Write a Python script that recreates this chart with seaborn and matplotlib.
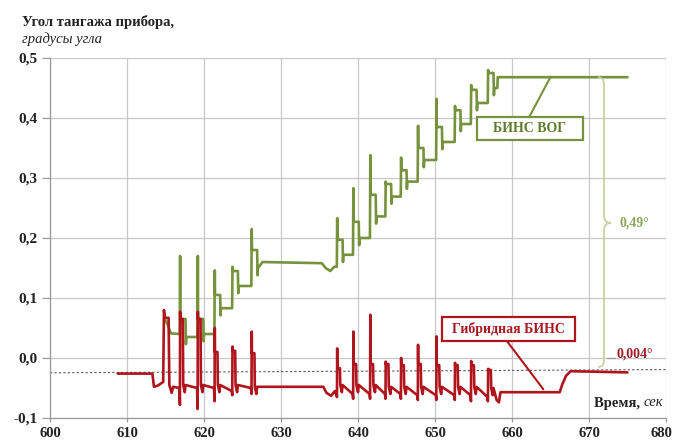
import numpy as np
import pandas as pd
import matplotlib
matplotlib.use("Agg")
import matplotlib.pyplot as plt
import matplotlib.transforms as mtransforms
from matplotlib.patches import Rectangle, PathPatch
from matplotlib.path import Path
import seaborn as sns

# ---------------- data ----------------
# Pitch of the device, degrees, vs time, s
# Correction cycles (same instants for both systems)
cyc_a_t = [616.9, 619.2, 621.4, 623.7, 626.2]
cyc_b_t = [637.3, 639.4, 641.6, 643.6, 645.6, 647.8, 650.2, 652.6, 654.7, 656.9]

# БИНС ВОГ: spike peak, level right after spike, settled level
gA_peak = [0.170, 0.170, 0.146, 0.152, 0.215]
gA_post = [0.065, 0.065, 0.105, 0.145, 0.180]
gA_low = [0.035, 0.040, 0.083, 0.120, 0.150]
gB_peak = [0.233, 0.283, 0.338, 0.294, 0.334, 0.387, 0.432, 0.420, 0.455, 0.480]
gB_post = [0.197, 0.227, 0.272, 0.290, 0.313, 0.350, 0.385, 0.413, 0.447, 0.475]
gB_low = [0.172, 0.200, 0.236, 0.269, 0.294, 0.330, 0.360, 0.390, 0.425, 0.450]
g_lead_t = [615.0, 615.3, 615.7, 616.85]
g_lead_v = [0.063, 0.055, 0.041, 0.040]
g_hold_t = [627.6, 635.3, 635.8, 636.4, 636.9, 637.25]
g_hold_v = [0.160, 0.158, 0.150, 0.145, 0.152, 0.152]
g_tail_t = [658.1, 658.15, 675.0]
g_tail_v = [0.450, 0.468, 0.468]

# Гибридная БИНС: spike top, spike bottom, hook, middle level, level before next cycle
rA_top = [0.077, 0.077, 0.050, 0.019, 0.044]
rA_bot = [-0.078, -0.085, -0.072, -0.062, -0.060]
rA_hook = [0.065, 0.065, 0.010, 0.012, 0.008]
rA_mid = [-0.045, -0.045, -0.045, -0.045, -0.048]
rA_low = [-0.050, -0.050, -0.055, -0.050, -0.048]
rB_top = [0.016, 0.044, 0.072, -0.006, 0.000, 0.022, 0.036, -0.008, -0.005, -0.018]
rB_bot = [-0.065, -0.068, -0.068, -0.068, -0.068, -0.070, -0.070, -0.070, -0.072, -0.072]
rB_hook = [-0.017, -0.010, -0.010, -0.010, -0.012, -0.010, -0.012, -0.012, -0.012, -0.020]
rB_mid = [-0.045, -0.045, -0.045, -0.048, -0.048, -0.048, -0.048, -0.048, -0.048, -0.050]
rB_low = [-0.060, -0.060, -0.060, -0.060, -0.062, -0.062, -0.062, -0.062, -0.065, -0.052]
r_lead_t = [608.8, 613.3, 613.5, 614.0, 614.7, 614.8, 614.9, 615.4, 615.5, 615.8, 616.0, 616.8]
r_lead_v = [-0.026, -0.026, -0.048, -0.046, -0.040, 0.080, 0.067, 0.067, -0.045, -0.058,
            -0.048, -0.050]
r_hold_t = [627.3, 635.5, 635.9, 636.5, 637.0]
r_hold_v = [-0.048, -0.048, -0.058, -0.063, -0.055]
r_tail_t = [658.0, 658.3, 658.5, 666.2, 666.5, 667.0, 667.6, 675.0]
r_tail_v = [-0.070, -0.074, -0.057, -0.057, -0.045, -0.030, -0.022, -0.024]

ref_t = [600, 680]
ref_v = [-0.0247, -0.0193]

labels_y = ["-0,1", "0,0", "0,1", "0,2", "0,3", "0,4", "0,5"]
ticks_y = [-0.1, 0.0, 0.1, 0.2, 0.3, 0.4, 0.5]
ticks_x = [600, 610, 620, 630, 640, 650, 660, 670, 680]


def green_cycles(ts, peak, post, low):
    pts = []
    for i, t in enumerate(ts):
        pts += [(t, peak[i]), (t + 0.03, post[i]), (t + 0.7, post[i]),
                (t + 0.75, low[i] - 0.012), (t + 0.8, low[i])]
        if i + 1 < len(ts):
            pts.append((ts[i + 1] - 0.05, low[i]))
    return pts


def red_cycles(ts, top, bot, hook, mid, low):
    pts = []
    for i, t in enumerate(ts):
        pts += [(t - 0.03, bot[i]), (t, top[i]), (t + 0.02, hook[i]),
                (t + 0.35, hook[i]), (t + 0.4, mid[i]), (t + 0.6, mid[i] - 0.012),
                (t + 0.7, mid[i])]
        if i + 1 < len(ts):
            pts.append((ts[i + 1] - 0.1, low[i]))
    return pts


g_pts = (list(zip(g_lead_t, g_lead_v)) + green_cycles(cyc_a_t, gA_peak, gA_post, gA_low)
         + list(zip(g_hold_t, g_hold_v)) + green_cycles(cyc_b_t, gB_peak, gB_post, gB_low)
         + list(zip(g_tail_t, g_tail_v)))
r_pts = (list(zip(r_lead_t, r_lead_v)) + red_cycles(cyc_a_t, rA_top, rA_bot, rA_hook, rA_mid, rA_low)
         + list(zip(r_hold_t, r_hold_v)) + red_cycles(cyc_b_t, rB_top, rB_bot, rB_hook, rB_mid, rB_low)
         + list(zip(r_tail_t, r_tail_v)))

green_df = pd.DataFrame(g_pts, columns=["t", "v"])
red_df = pd.DataFrame(r_pts, columns=["t", "v"])

# ---------------- style ----------------
sns.set_theme(style="white")
plt.rcParams["font.family"] = ["Liberation Serif", "DejaVu Serif"]

GREEN = "#76923c"
RED = "#b0141c"
GRID = "#c8c8c8"

fig = plt.figure(figsize=(6.73, 4.41), dpi=100)
ax = fig.add_axes([50 / 673, 23 / 441, 616 / 673, 360 / 441])

ax.plot(ref_t, ref_v, color="#555555", lw=0.8, ls=(0, (2, 2)), zorder=2)
sns.lineplot(data=green_df, x="t", y="v", ax=ax, color=GREEN, lw=1.9,
             estimator=None, sort=False, zorder=3)
sns.lineplot(data=red_df, x="t", y="v", ax=ax, color=RED, lw=1.9,
             estimator=None, sort=False, zorder=4)

ax.set_xlim(600, 680)
ax.set_ylim(-0.1, 0.5)
ax.set_xticks(ticks_x)
ax.set_xticklabels([str(x) for x in ticks_x], fontweight="bold", fontsize=10.5)
ax.set_yticks(ticks_y)
ax.set_yticklabels(labels_y, fontweight="bold", fontsize=11)
ax.set_xlabel("")
ax.set_ylabel("")
ax.grid(True, color=GRID, lw=0.9)
for s in ["top", "right"]:
    ax.spines[s].set_visible(False)
for s in ["left", "bottom"]:
    ax.spines[s].set_color("#9a9a9a")
    ax.spines[s].set_linewidth(0.9)
ax.tick_params(axis="y", left=True, length=6, width=0.9, color="#9a9a9a",
               direction="out", labelcolor="#222222", pad=3)
ax.tick_params(axis="x", bottom=True, length=3, width=0.9, color="#9a9a9a",
               direction="out", labelcolor="#222222", pad=3.5)
# keep the last time label inside the canvas
last_lbl = ax.get_xticklabels()[-1]
last_lbl.set_transform(last_lbl.get_transform()
                       + mtransforms.ScaledTranslation(-5 / 100, 0, fig.dpi_scale_trans))

# title
fig.text(22 / 673, 1 - 22 / 441, "Угол тангажа прибора,", fontsize=10.5, fontweight="bold",
         ha="left", va="center", color="#222222")
fig.text(22 / 673, 1 - 39 / 441, "градусы угла", fontsize=10.5, style="italic",
         ha="left", va="center", color="#222222")

# axis caption
sek = ax.text(679.6, -0.075, "сек", fontsize=10.5, style="italic", ha="right", va="center",
              color="#222222", zorder=6)
ax.annotate("Время, ", xy=(0, 0.5), xycoords=sek, ha="right", va="center",
            fontsize=10.5, fontweight="bold", color="#222222", zorder=6)

# label boxes
ax.plot([662.25, 665.03], [0.402, 0.469], color=GREEN, lw=1.5, zorder=5)
ax.add_patch(Rectangle((655.45, 0.363), 13.77, 0.039, fc="white", ec=GREEN, lw=1.6, zorder=6))
ax.text(662.34, 0.3825, "БИНС ВОГ", color="#5f7a2e", fontsize=10, fontweight="bold",
        ha="center", va="center", zorder=7)

ax.plot([659.35, 664.06], [0.028, -0.052], color=RED, lw=1.5, zorder=5)
ax.add_patch(Rectangle((650.91, 0.0283), 17.27, 0.040, fc="white", ec=RED, lw=1.6, zorder=6))
ax.text(659.55, 0.048, "Гибридная БИНС", color="#a8161e", fontsize=10, fontweight="bold",
        ha="center", va="center", zorder=7)

# brace showing the spread of the two systems
xa, xb, xc = 671.17, 671.95, 672.86
ytop, ybot, ymid, r = 0.468, -0.015, 0.225, 0.012
verts = [(xa, ytop), (xb, ytop), (xb, ytop - r),
         (xb, ymid + r), (xb, ymid), (xc, ymid),
         (xb, ymid), (xb, ymid - r),
         (xb, ybot + r), (xb, ybot), (xa, ybot)]
codes = [Path.MOVETO, Path.CURVE3, Path.CURVE3,
         Path.LINETO, Path.CURVE3, Path.CURVE3,
         Path.CURVE3, Path.CURVE3,
         Path.LINETO, Path.CURVE3, Path.CURVE3]
ax.add_patch(PathPatch(Path(verts, codes), fc="none", ec="#c3cf9c", lw=1.2, zorder=5,
                       clip_on=False))
ax.text(674.0, 0.225, "0,49°", color="#8aa65a", fontsize=10, fontweight="bold",
        ha="left", va="center", zorder=7)
ax.plot([672.3, 673.4], [-0.0005, -0.0005], color="#999999", lw=0.9, zorder=5)
ax.text(673.6, 0.006, "0,004°", color="#a0202a", fontsize=10, fontweight="bold",
        ha="left", va="center", zorder=7)

fig.savefig("out.png", dpi=100)
